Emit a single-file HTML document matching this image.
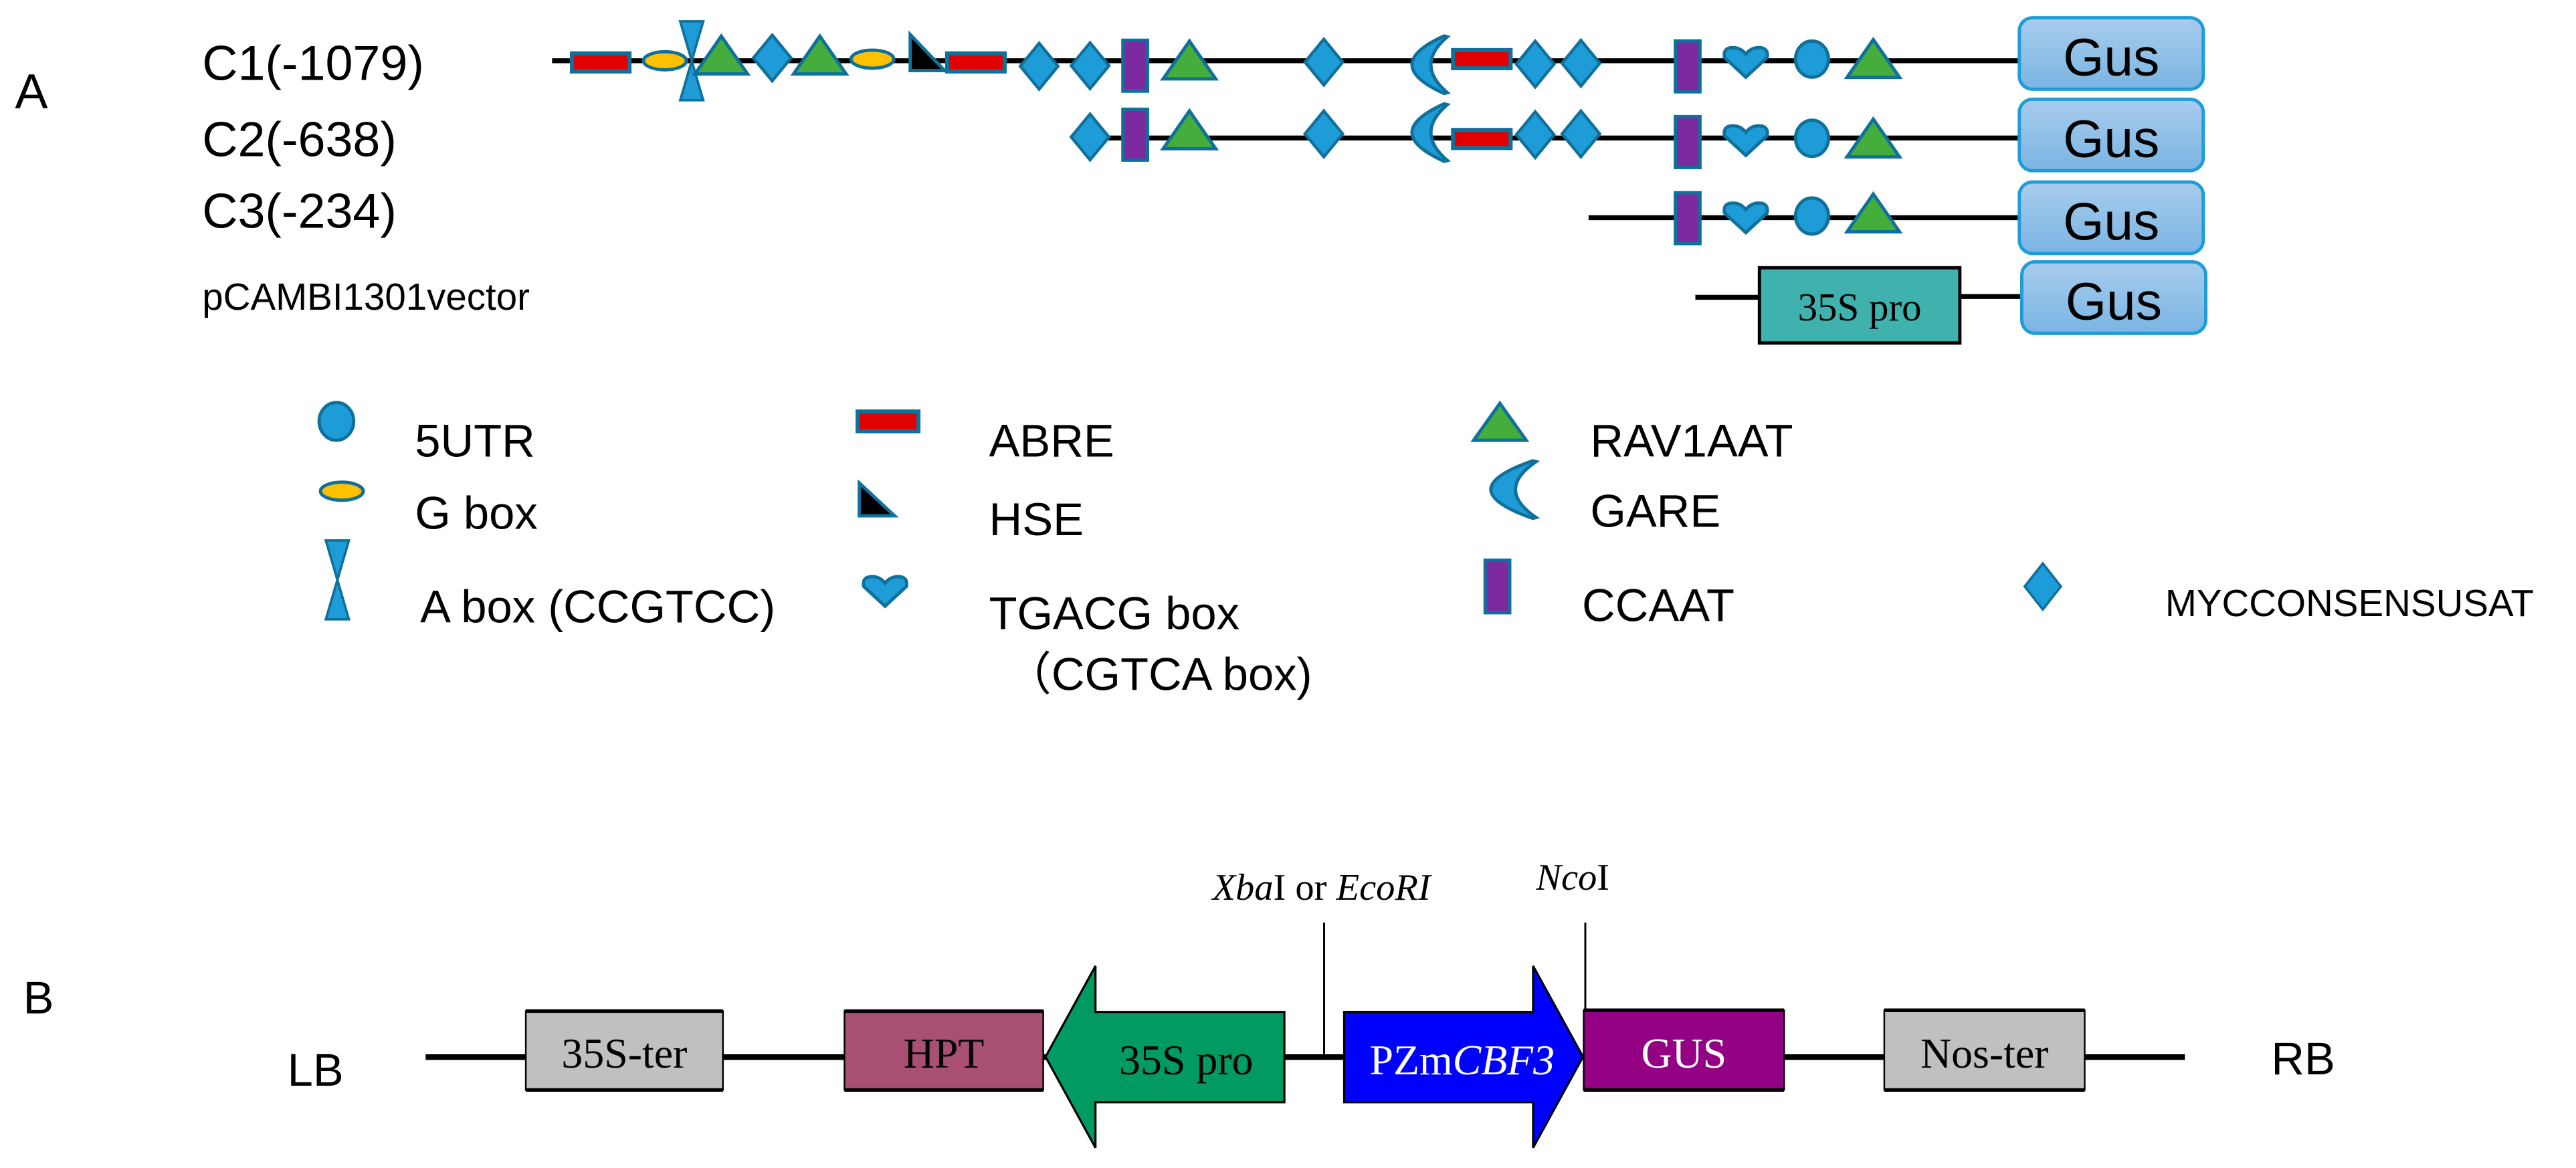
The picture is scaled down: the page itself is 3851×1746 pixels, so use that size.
<!DOCTYPE html>
<html><head><meta charset="utf-8"><style>html,body{margin:0;padding:0;background:#fff}svg{display:block}</style></head>
<body>
<svg xmlns="http://www.w3.org/2000/svg" width="3851" height="1746" viewBox="0 0 1568 711">
<defs>
<linearGradient id="g" x1="0" y1="0" x2="0" y2="1"><stop offset="0" stop-color="#a8ccec"/><stop offset="1" stop-color="#7ab5e3"/></linearGradient>
<g id="dia"><polygon points="0,-14 11.5,0 0,14 -11.5,0" fill="#1e9cd8" stroke="#10709c" stroke-width="1.8"/></g>
<g id="tri"><polygon points="0,-11.5 16,11.5 -16,11.5" fill="#44ad3c" stroke="#10709c" stroke-width="2"/></g>
<g id="rred"><rect x="-17.5" y="-5.5" width="35" height="11" fill="#e00000" stroke="#10709c" stroke-width="2.5"/></g>
<g id="pur"><rect x="-7.5" y="-15.5" width="15" height="31" fill="#7d2aa0" stroke="#10709c" stroke-width="2"/></g>
<g id="cres"><path d="M19,-17 Q-1,0 19,17 L17,17.5 Q-22,0 17,-17.5 Z" fill="#1e9cd8" stroke="#10709c" stroke-width="2"/></g>
<g id="heart"><path d="M0,9 L-13,-3 Q-14,-9 -8,-9 Q-3,-9 0,-5 Q3,-9 8,-9 Q14,-9 13,-3 Z" fill="#1e9cd8" stroke="#10709c" stroke-width="2"/></g>
<g id="circ"><ellipse cx="0" cy="0" rx="10" ry="11" fill="#1e9cd8" stroke="#10709c" stroke-width="2"/></g>
<g id="yel"><ellipse cx="0" cy="0" rx="13" ry="5.5" fill="#ffc000" stroke="#10709c" stroke-width="2"/></g>
<g id="hg"><polygon points="-7,-24 7,-24 0,0 7,24 -7,24 0,0" fill="#1e9cd8" stroke="#10709c" stroke-width="1.5"/></g>
<g id="hse"><polygon points="-10,-15 11,7 -10,7" fill="#000" stroke="#10709c" stroke-width="2"/></g>
<g id="gus"><rect x="0" y="0" width="112" height="43.5" rx="8" fill="url(#g)" stroke="#1e9cd8" stroke-width="2"/><text x="56" y="35" font-family="Liberation Sans, sans-serif" font-size="32" text-anchor="middle">Gus</text></g>
</defs>
<g font-family="Liberation Sans, sans-serif" fill="#000">
<text x="9" y="66" font-size="30">A</text>
<text x="123" y="48.6" font-size="30">C1(-1079)</text>
<text x="123" y="95" font-size="30">C2(-638)</text>
<text x="123" y="138.7" font-size="30">C3(-234)</text>
<text x="123" y="188.6" font-size="23">pCAMBI1301vector</text>
</g>
<g stroke="#000" stroke-width="3">
<line x1="336" y1="37" x2="1230" y2="37"/>
<line x1="655" y1="84" x2="1230" y2="84"/>
<line x1="967" y1="132.5" x2="1230" y2="132.5"/>
<line x1="1032" y1="181" x2="1071" y2="181"/>
<line x1="1193" y1="180.5" x2="1231" y2="180.5"/>
</g>
<use href="#rred" x="365.6" y="38"/>
<use href="#yel" x="404.7" y="37"/>
<use href="#hg" x="421" y="37"/>
<use href="#tri" x="439" y="33.5"/>
<use href="#dia" x="470" y="35.3"/>
<use href="#tri" x="499" y="33.5"/>
<use href="#yel" x="531" y="36"/>
<use href="#hse" x="564" y="36"/>
<use href="#rred" x="594" y="38"/>
<use href="#dia" x="632.5" y="40.3"/>
<use href="#dia" x="663.5" y="40"/>
<use href="#pur" x="691" y="40"/>
<use href="#tri" x="724" y="36.5"/>
<use href="#dia" x="805.8" y="37.8"/>
<use href="#cres" x="862" y="39.4"/>
<use href="#rred" x="902" y="36"/>
<use href="#dia" x="934.5" y="39"/>
<use href="#dia" x="962.3" y="38.5"/>
<use href="#pur" x="1027.3" y="40.4"/>
<use href="#heart" x="1062.7" y="38"/>
<use href="#circ" x="1103" y="36"/>
<use href="#tri" x="1140.3" y="35.6"/>
<use href="#gus" x="1229.2" y="10.8"/>
<use href="#dia" x="663.5" y="83.4"/>
<use href="#pur" x="691" y="82"/>
<use href="#tri" x="724" y="79"/>
<use href="#dia" x="805.8" y="81.5"/>
<use href="#cres" x="862" y="80.7"/>
<use href="#rred" x="902" y="84.6"/>
<use href="#dia" x="934.5" y="82"/>
<use href="#dia" x="962.3" y="81.5"/>
<use href="#pur" x="1027.3" y="86.5"/>
<use href="#heart" x="1062.7" y="85.6"/>
<use href="#circ" x="1103" y="84.2"/>
<use href="#tri" x="1140.3" y="84"/>
<use href="#gus" x="1229.2" y="60.4"/>
<use href="#pur" x="1027.3" y="132.8"/>
<use href="#heart" x="1062.7" y="132.6"/>
<use href="#circ" x="1103" y="131.5"/>
<use href="#tri" x="1140.3" y="129.6"/>
<use href="#gus" x="1229.2" y="110.8"/>
<rect x="1071" y="163" width="122" height="45.8" fill="#40b2ae" stroke="#000" stroke-width="2"/>
<text x="1132" y="195" font-family="Liberation Serif, serif" font-size="24" text-anchor="middle">35S pro</text>
<use href="#gus" x="1230.7" y="159.4"/>
<g font-family="Liberation Sans, sans-serif" font-size="28">
<ellipse cx="204.7" cy="256.5" rx="10.5" ry="11.5" fill="#1e9cd8" stroke="#10709c" stroke-width="2"/>
<text x="252.5" y="278">5UTR</text>
<use href="#yel" x="208" y="299"/>
<text x="252.5" y="322">G box</text>
<use href="#hg" x="205.3" y="353"/>
<text x="255.7" y="379">A box (CCGTCC)</text>
<rect x="522" y="250.5" width="37" height="12" fill="#e00000" stroke="#10709c" stroke-width="2.5"/>
<text x="602" y="278">ABRE</text>
<polygon points="523,294 544.5,314 523,314" fill="#000" stroke="#10709c" stroke-width="2"/>
<text x="602" y="325.8">HSE</text>
<use href="#heart" x="538.7" y="360"/>
<text x="602" y="383">TGACG box</text>
<text x="612" y="420" font-family="Liberation Sans, 'Noto Sans CJK SC', sans-serif">（CGTCA box)</text>
<polygon points="913,245.5 929,268 897,268" fill="#44ad3c" stroke="#10709c" stroke-width="2"/>
<text x="968" y="278">RAV1AAT</text>
<path d="M935,281 Q910,298 935,315 L933,315.5 Q882,298 933,280.5 Z" fill="#1e9cd8" stroke="#10709c" stroke-width="2"/>
<text x="968" y="320.6">GARE</text>
<rect x="904" y="341" width="15" height="32" fill="#7d2aa0" stroke="#10709c" stroke-width="2"/>
<text x="963" y="378">CCAAT</text>
<polygon points="1243.5,343 1254.5,357 1243.5,371 1232.5,357" fill="#1e9cd8" stroke="#10709c" stroke-width="1.5"/>
<text x="1318" y="375" font-size="23">MYCCONSENSUSAT</text>
</g>
<text x="14" y="617" font-family="Liberation Sans, sans-serif" font-size="28">B</text>
<text x="192" y="661" font-family="Liberation Sans, sans-serif" font-size="28" text-anchor="middle">LB</text>
<text x="1402" y="654" font-family="Liberation Sans, sans-serif" font-size="28" text-anchor="middle">RB</text>
<line x1="259" y1="643.5" x2="1330" y2="643.5" stroke="#000" stroke-width="3.5"/>
<line x1="806" y1="561.6" x2="806" y2="642" stroke="#000" stroke-width="1.2"/>
<line x1="965" y1="561.6" x2="965" y2="642" stroke="#000" stroke-width="1.2"/>
<g font-family="Liberation Serif, serif" font-size="23">
<text x="738" y="547.7"><tspan font-style="italic">Xba</tspan>I or <tspan font-style="italic">EcoRI</tspan></text>
<text x="935" y="541.6"><tspan font-style="italic">Nco</tspan>I</text>
</g>
<g stroke="#000" stroke-width="1">
<rect x="320" y="615.5" width="120" height="48" fill="#c0c0c0"/>
<rect x="514" y="615.5" width="121" height="48" fill="#a85074"/>
<rect x="964" y="615" width="122" height="48.5" fill="#930083"/>
<rect x="1147" y="615" width="122" height="48.5" fill="#c0c0c0"/>
</g>
<g stroke="#000" stroke-width="2.2">
<line x1="320" y1="615.5" x2="440" y2="615.5"/><line x1="320" y1="663.5" x2="440" y2="663.5"/>
<line x1="514" y1="615.5" x2="635" y2="615.5"/><line x1="514" y1="663.5" x2="635" y2="663.5"/>
<line x1="964" y1="615" x2="1086" y2="615"/><line x1="964" y1="663.5" x2="1086" y2="663.5"/>
<line x1="1147" y1="615" x2="1269" y2="615"/><line x1="1147" y1="663.5" x2="1269" y2="663.5"/>
</g>
<polygon points="636.4,643.3 666.8,588 666.8,616 781.8,616 781.8,671 666.8,671 666.8,698.7" fill="#009a62" stroke="#000" stroke-width="1.3"/>
<polygon points="963.6,643.3 933.2,588 933.2,616 818.2,616 818.2,671 933.2,671 933.2,698.7" fill="#0000ff" stroke="#000" stroke-width="1.3"/>
<g font-family="Liberation Serif, serif" font-size="26" text-anchor="middle">
<text x="380" y="650">35S-ter</text>
<text x="574.5" y="650">HPT</text>
<text x="1025" y="650" fill="#fff">GUS</text>
<text x="1208" y="650">Nos-ter</text>
<text x="722" y="654">35S pro</text>
<text x="890" y="654" fill="#fff">PZm<tspan font-style="italic">CBF3</tspan></text>
</g>
</svg>
</body></html>
